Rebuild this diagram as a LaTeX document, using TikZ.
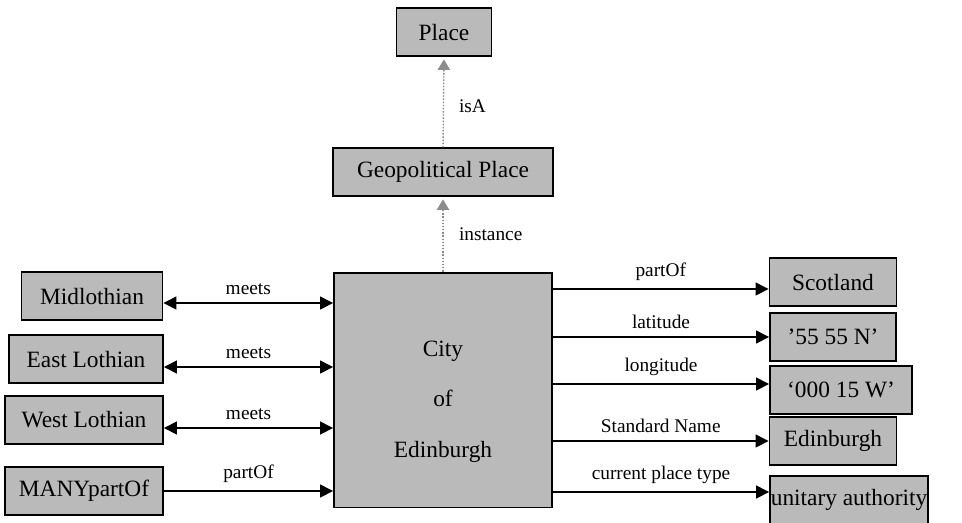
\documentclass[tikz,border=0pt]{standalone}
\usepackage{fontspec}
\setmainfont{Liberation Serif}
\usetikzlibrary{arrows.meta}

\begin{document}
\begin{tikzpicture}[x=0.02cm,y=-0.02cm,>={Triangle[length=7.4pt,width=7.4pt]},
      line width=0.8pt,
      main node/.style={draw,line width=1.1pt,fill=black!27,inner sep=0pt,
        font=\fontsize{13.3}{16}\selectfont,minimum height=0.95cm},
      rel/.style={font=\fontsize{11}{13}\selectfont,above=1pt},
      kind/.style={->,>={Triangle[length=6pt,width=7pt]},draw=black!45,
        fill=black!45,densely dotted,shorten >=1.5pt}]
    \useasboundingbox (0,0) rectangle (962,522);
    \node[main node,minimum width=1.9cm] (place) at (444,32) {Place};
    \node[main node,minimum width=4.4cm] (geo) at (443,172) {Geopolitical Place};
    \node[main node,minimum width=4.36cm,minimum height=4.7cm,align=center]
      (city) at (443,390) {\rule{0pt}{0.78cm}City\\[0.44cm]of\\[0.44cm]Edinburgh};
    \node[main node,minimum width=2.82cm] (mid) at (92,296) {Midlothian};
    \node[main node,minimum width=3.08cm] (east) at (86,359) {East Lothian};
    \node[main node,minimum width=3.16cm] (west) at (84,420) {West Lothian};
    \node[main node,minimum width=3.16cm] (many) at (84,491) {MANYpartOf};
    \node[main node,minimum width=2.54cm] (scot) at (833,282) {Scotland};
    \node[main node,minimum width=2.52cm] (lat) at (833,337) {'55 55 N'};
    \node[main node,minimum width=2.84cm] (lon) at (841,390) {`000 15 W'};
    \node[main node,minimum width=2.54cm] (std) at (833,441) {Edinburgh};
    \node[main node,minimum width=3.16cm] (ua) at (849,500) {unitary authority};
    % class links
    \draw[kind] (geo.north) -- node[pos=0.45,right=0.18cm,text=black,
      font=\fontsize{11}{13}\selectfont] {isA} (place.south);
    \draw[kind] (city.north) -- node[right=0.19cm,text=black,
      font=\fontsize{11}{13}\selectfont] {instance} (geo.south);
    % neighbours
    \draw[<->] ([yshift=-0.14cm]mid.east) coordinate (m1) -- node[rel] {meets} (m1 -| city.west);
    \draw[<->] ([yshift=-0.16cm]east.east) coordinate (m2) -- node[rel] {meets} (m2 -| city.west);
    \draw[<->] ([yshift=-0.16cm]west.east) coordinate (m3) -- node[rel] {meets} (m3 -| city.west);
    \draw[->] (many.east) -- node[rel] {partOf} (many.east -| city.west);
    % properties
    \draw[->] ([yshift=-0.14cm]scot.west -| city.east) coordinate (p1) -- node[rel] {partOf} (p1 -| scot.west);
    \draw[->] (lat.west -| city.east) -- node[rel] {latitude} (lat.west);
    \draw[->] ([yshift=0.12cm]lon.west -| city.east) coordinate (p3) -- node[rel] {longitude} (p3 -| lon.west);
    \draw[->] (std.west -| city.east) -- node[rel] {Standard Name} (std.west);
    \draw[->] ([yshift=0.16cm]ua.west -| city.east) coordinate (p5) -- node[rel] {current place type} (p5 -| ua.west);
  \end{tikzpicture}
\end{document}
